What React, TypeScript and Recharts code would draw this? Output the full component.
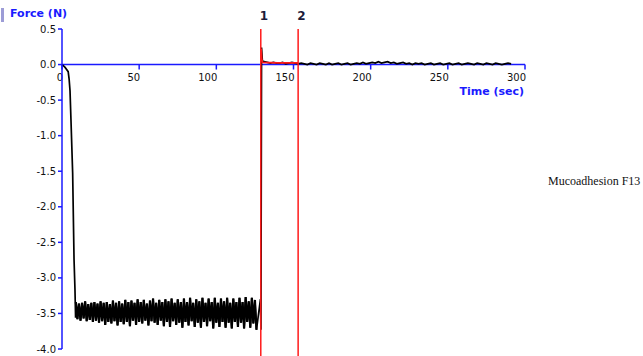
import React from 'react';
import { LineChart, Line, XAxis, YAxis, ReferenceLine } from 'recharts';

// ramp-down after contact (sec, N)
const headTimes = [0, 1, 2, 3, 4, 4.6, 5.2, 5.8, 6.9, 7.8, 8.4, 8.8];
const headForce = [0, -0.02, -0.04, -0.07, -0.1, -0.2, -0.37, -0.77, -1.52, -2.74, -3.16, -3.56];

// holding phase, one reading per second from t = 9 s to t = 129 s
const bandStart = 9;
const bandStep = 1;
const bandForce = [
  -3.34, -3.58, -3.36, -3.6, -3.35, -3.57, -3.33, -3.61, -3.37, -3.59,
  -3.35, -3.62, -3.34, -3.6, -3.36, -3.63, -3.33, -3.61, -3.35, -3.66,
  -3.34, -3.62, -3.37, -3.64, -3.32, -3.61, -3.35, -3.67, -3.33, -3.62,
  -3.36, -3.65, -3.31, -3.62, -3.34, -3.68, -3.32, -3.6, -3.35, -3.66,
  -3.3, -3.62, -3.34, -3.64, -3.31, -3.6, -3.36, -3.67, -3.32, -3.61,
  -3.29, -3.63, -3.35, -3.66, -3.31, -3.6, -3.34, -3.68, -3.3, -3.62,
  -3.33, -3.69, -3.29, -3.61, -3.35, -3.66, -3.3, -3.63, -3.34, -3.7,
  -3.29, -3.62, -3.34, -3.67, -3.28, -3.61, -3.35, -3.69, -3.3, -3.63,
  -3.33, -3.7, -3.28, -3.62, -3.35, -3.68, -3.29, -3.61, -3.34, -3.71,
  -3.28, -3.63, -3.35, -3.69, -3.29, -3.62, -3.33, -3.7, -3.28, -3.63,
  -3.35, -3.71, -3.29, -3.62, -3.34, -3.69, -3.28, -3.63, -3.34, -3.71,
  -3.27, -3.62, -3.33, -3.7, -3.28, -3.64, -3.31, -3.73,
];

// detachment
const pullTimes = [128.6, 128.9, 129.3, 129.8, 130.4];
const pullForce = [-3.3, -3.73, 0.24, 0.06, 0.04];

// after detachment, every 2 s from t = 131 s
const tailStart = 131;
const tailStep = 2;
const tailForce = [
  0.04, 0.03, 0.02, 0.03, 0.02, 0.02, 0.03, 0.01, 0.02, 0.03,
  0.02, 0.01, 0.02, 0.01, 0.0, 0.02, 0.01, 0.0, 0.02, 0.01,
  0.0, 0.02, 0.0, 0.01, 0.02, 0.0, 0.01, 0.02, 0.0, 0.01,
  0.02, 0.01, 0.03, 0.01, 0.02, 0.03, 0.02, 0.04, 0.02, 0.03,
  0.04, 0.02, 0.03, 0.01, 0.02, 0.03, 0.01, 0.02, 0.0, 0.02,
  0.01, 0.02, 0.0, 0.01, 0.02, 0.0, 0.01, 0.02, 0.0, 0.01,
  0.02, 0.0, 0.01, 0.02, 0.0, 0.01, 0.02, 0.01, 0.0, 0.02,
  0.01, 0.0, 0.02, 0.01, 0.0, 0.02, 0.01, 0.0, 0.01, 0.02,
  0.01,
];

// highlighted stretch between markers 1 and 2
const markTimes = [129.0, 129.4, 129.9, 140, 153];
const markForce = [0.22, 0.08, 0.03, 0.025, 0.025];

const markers = [
  { name: '1', t: 128.8 },
  { name: '2', t: 153 },
];

const xTicks = [0, 50, 100, 150, 200, 250, 300];
const yTicks = [-4, -3.5, -3, -2.5, -2, -1.5, -1, -0.5, 0, 0.5];

const BLUE = '#1a1aff';
const RED = '#ff1a1a';

const band = bandForce.map((f, i) => ({ t: bandStart + i * bandStep, f }));
const trace = [
  ...headTimes.map((t, i) => ({ t, f: headForce[i] })),
  ...band,
  ...pullTimes.map((t, i) => ({ t, f: pullForce[i] })),
  ...tailForce.map((f, i) => ({ t: tailStart + i * tailStep, f })),
];
const marked = markTimes.map((t, i) => ({ t, f: markForce[i] }));

const XTickLabel = (props: any) => {
  const vb = props.viewBox || {};
  return (
    <text x={vb.x + 1} y={vb.y + 16} textAnchor="end" fontSize={10} fontFamily="DejaVu Sans" fill="#111">
      {props.text}
    </text>
  );
};

const MarkerLabel = (props: any) => {
  const vb = props.viewBox || {};
  return (
    <text x={vb.x - 1} y={vb.y - 9} textAnchor="start" fontSize={12} fontWeight="bold" fontFamily="DejaVu Sans" fill="#1c1c3a">
      {props.text}
    </text>
  );
};

export default function App() {
  return (
    <div style={{ position: 'absolute', left: 0, top: 0, width: 643, height: 356, background: '#fff' }}>
      <div style={{ position: 'absolute', left: 1, top: 8, width: 3, height: 14, background: '#9c9cd6' }} />
      <div style={{ position: 'absolute', left: 10, top: 7, fontFamily: 'DejaVu Sans', fontWeight: 'bold', fontSize: 11, color: BLUE }}>
        Force (N)
      </div>
      <div style={{ position: 'absolute', right: 119, top: 85, fontFamily: 'DejaVu Sans', fontWeight: 'bold', fontSize: 11, color: BLUE }}>
        Time (sec)
      </div>
      <div style={{ position: 'absolute', left: 548, top: 174, fontFamily: 'Liberation Serif', fontSize: 12, color: '#111' }}>
        Mucoadhesion F13
      </div>
      <LineChart width={643} height={356} margin={{ top: 29, right: 118, bottom: 7, left: 0 }}>
        <XAxis dataKey="t" type="number" domain={[0, 300]} ticks={xTicks} hide allowDataOverflow />
        <YAxis
          type="number"
          domain={[-4, 0.5]}
          ticks={yTicks}
          width={62}
          allowDataOverflow
          axisLine={{ stroke: BLUE, strokeWidth: 1.5 }}
          tickLine={{ stroke: BLUE, strokeWidth: 1.5 }}
          tickSize={4}
          tick={{ fontSize: 10, fontFamily: 'DejaVu Sans', fill: '#111' }}
          tickFormatter={(v: number) => v.toFixed(1)}
        />
        <ReferenceLine y={0} stroke={BLUE} strokeWidth={1.5} />
        {xTicks.map((v) => (
          <ReferenceLine
            key={v}
            segment={[{ x: v, y: 0 }, { x: v, y: -0.07 }]}
            stroke={BLUE}
            strokeWidth={1.5}
            label={{ content: (p: any) => <XTickLabel {...p} text={String(v)} /> }}
          />
        ))}
        <Line data={trace} dataKey="f" stroke="#000" strokeWidth={1.7} dot={false} isAnimationActive={false} />
        <Line data={band} dataKey="f" stroke="#000" strokeWidth={2.2} dot={false} isAnimationActive={false} />
        <Line data={marked} dataKey="f" stroke={RED} strokeWidth={1.8} dot={false} isAnimationActive={false} />
        {markers.map((m) => (
          <ReferenceLine
            key={m.name}
            segment={[{ x: m.t, y: 0.5 }, { x: m.t, y: -4.1 }]}
            ifOverflow="visible"
            stroke={RED}
            strokeWidth={1.5}
            label={{ content: (p: any) => <MarkerLabel {...p} text={m.name} /> }}
          />
        ))}
      </LineChart>
    </div>
  );
}
